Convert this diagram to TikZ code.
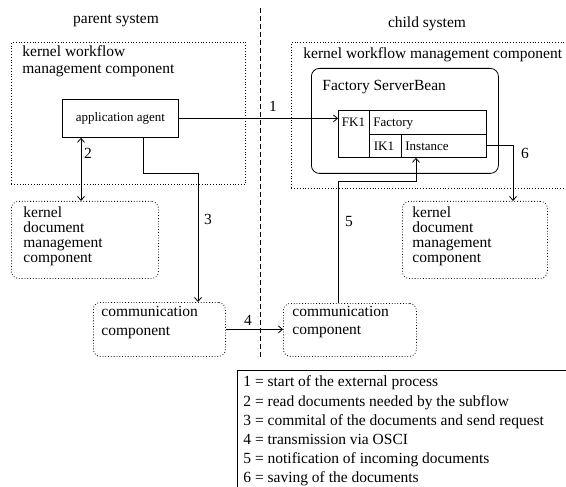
\documentclass[tikz,border=0pt]{standalone}
\usepackage{fontspec}
\setmainfont{Liberation Serif}
\usetikzlibrary{arrows.meta}
\begin{document}
\begin{tikzpicture}[x=1pt,y=-1pt,line width=0.8pt,
  >={Straight Barb[length=4pt,width=7pt]},
  dotbox/.style={draw,dotted,line width=0.8pt,inner sep=0pt,anchor=north west},
  rdotbox/.style={dotbox,rounded corners=7pt},
  solidbox/.style={draw,line width=0.8pt,inner sep=0pt,anchor=north west},
  bigtxt/.style={font=\fontsize{15.5}{17}\selectfont,inner sep=0pt},
  smalltxt/.style={font=\fontsize{13}{15}\selectfont,inner sep=0pt},
  blocktxt/.style={font=\fontsize{15.5}{#1}\selectfont,inner sep=0pt,anchor=north west,align=left},
  dividerline/.style={dash pattern=on 5pt off 3pt,line width=0.8pt},
]
\useasboundingbox (0,0) rectangle (566,487);

% titles
\node[bigtxt] (ptitle) at (116,21) {parent system};
\node[bigtxt] (ctitle) at (427,24) {child system};

% divider
\coordinate (dtop) at (260,8);
\coordinate (dbot) at (260,358);
\draw[dividerline] (dtop) -- (dbot);

% parent side
\node[dotbox,minimum width=234pt,minimum height=142pt] (lwf) at (11,42) {};
\node[blocktxt=17] (lwft) at (22,45) {kernel workflow\\management component};
\node[solidbox,smalltxt,minimum width=116pt,minimum height=38pt] (app) at (62,99) {application agent};
\node[rdotbox,minimum width=147pt,minimum height=77pt] (ldoc) at (11,201) {};
\node[blocktxt=15.2] (ldoct) at (23,206.2) {kernel\\document\\management\\component};
\node[rdotbox,minimum width=132pt,minimum height=54pt] (lcomm) at (93,302) {};
\node[blocktxt=18.5] (lcommt) at (101,306.2) {communication\\component};

% child side
\node[dotbox,minimum width=300pt,minimum height=146pt] (rwf) at (291,42) {};
\node[bigtxt,anchor=base west] (rwft) at (303,59) {kernel workflow management component};
\node[solidbox,rounded corners=8pt,minimum width=187pt,minimum height=105pt] (fsb) at (311,68) {};
\node[bigtxt,anchor=base west] (fsbt) at (322,91) {Factory ServerBean};
\node[solidbox,minimum width=31pt,minimum height=47pt] (fk) at (338,110) {};
\node[solidbox,minimum width=117pt,minimum height=24pt] (fac) at (369,110) {};
\node[solidbox,minimum width=32pt,minimum height=23pt] (ik) at (369,134) {};
\node[solidbox,minimum width=85pt,minimum height=23pt] (inst) at (401,134) {};
\node[smalltxt,anchor=base] (fkt) at (353.5,126.5) {FK1};
\node[smalltxt,anchor=base west] (fact) at (373,126.5) {Factory};
\node[smalltxt,anchor=base] (ikt) at (384,150) {IK1};
\node[smalltxt,anchor=base west] (instt) at (405,150) {Instance};
\node[rdotbox,minimum width=145pt,minimum height=77pt] (rdoc) at (402,201) {};
\node[blocktxt=15.2] (rdoct) at (412,206.2) {kernel\\document\\management\\component};
\node[rdotbox,minimum width=133pt,minimum height=53pt] (rcomm) at (283,303) {};
\node[blocktxt=18.5] (rcommt) at (292,305.4) {communication\\component};

% connectors
\draw[->] (app.east) -- (app.east -| fk.west);
\node[bigtxt] (l1) at (273,106) {1};
\draw[<->] ([xshift=19pt]app.south west) -- ([xshift=19pt]app.south west |- ldoc.north);
\node[bigtxt] (l2) at (88,153) {2};
\coordinate (k3) at (198,173);
\draw[->] ([xshift=81pt]app.south west) |- (k3) -- (k3 |- lcomm.north);
\node[bigtxt] (l3) at (208,219) {3};
\draw[->] (lcomm.east) -- (lcomm.east -| rcomm.west);
\node[bigtxt] (l4) at (248,320) {4};
\coordinate (k5) at (416,181);
\draw[->] ([xshift=55pt]rcomm.north west) |- (k5) -- (k5 |- inst.south);
\node[bigtxt] (l5) at (349,222) {5};
\draw[->] (inst.east) -| ([xshift=111pt]rdoc.north west);
\node[bigtxt] (l6) at (525,153) {6};

% legend
\coordinate (lgc) at (237,370);
\coordinate (lgr) at (566,370);
\coordinate (lgb) at (237,487);
\draw (lgr) -- (lgc) -- (lgb);
\node[blocktxt=19.2] (legend) at (243,375.5) {1 = start of the external process\\
2 = read documents needed by the subflow\\
3 = commital of the documents and send request\\
4 = transmission via OSCI\\
5 = notification of incoming documents\\
6 = saving of the documents};
\end{tikzpicture}
\end{document}
